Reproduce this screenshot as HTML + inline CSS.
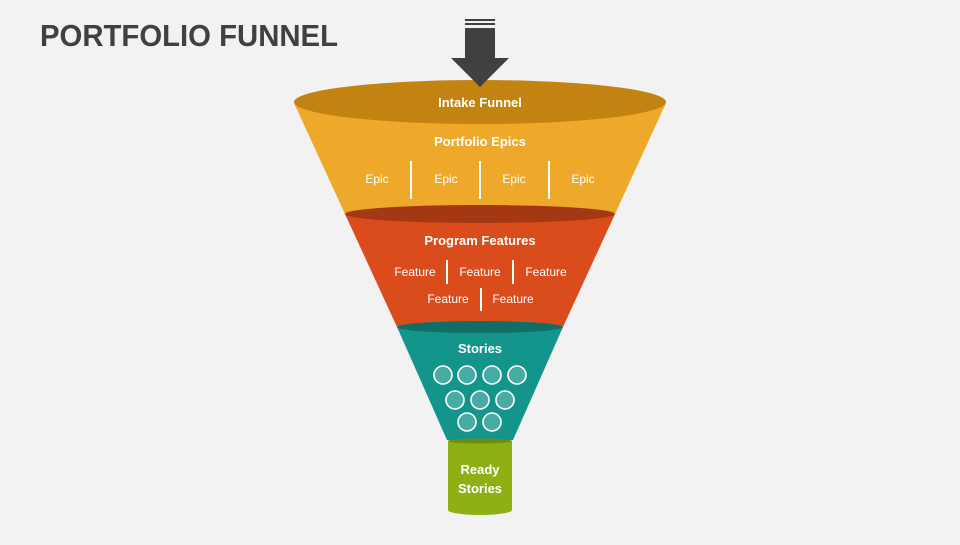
<!DOCTYPE html>
<html><head><style>
body{margin:0;width:960px;height:540px;background:#f2f2f2;overflow:hidden}
svg text{font-family:"Liberation Sans",sans-serif;font-weight:bold;fill:#fff;text-anchor:middle}
</style></head><body>
<svg width="960" height="540" viewBox="0 0 960 540">
<text x="40" y="46" textLength="298" lengthAdjust="spacingAndGlyphs" style="fill:#404040;font-size:31px;text-anchor:start">PORTFOLIO FUNNEL</text>
<!-- yellow -->
<polygon points="294,103 666,103 615,214 345,214" fill="#eea92a"/>
<ellipse cx="480" cy="102" rx="186" ry="22" fill="#c38310"/>
<!-- arrow -->
<rect x="465" y="19" width="30" height="2" fill="#404040"/>
<rect x="465" y="23" width="30" height="2" fill="#404040"/>
<rect x="465" y="28" width="30" height="31" fill="#404040"/>
<polygon points="451,58 509,58 480,87" fill="#404040"/>
<!-- orange -->
<polygon points="345,214 615,214 563,327 397,327" fill="#db4c1c"/>
<ellipse cx="480" cy="214" rx="135" ry="9" fill="#a43812"/>
<!-- teal -->
<polygon points="397,327 563,327 513,440 447,440" fill="#13958b"/>
<ellipse cx="480" cy="327" rx="83" ry="6" fill="#0f6e66"/>
<!-- green -->
<rect x="448" y="441" width="64" height="69" fill="#8db015"/>
<ellipse cx="480" cy="510" rx="32" ry="5" fill="#8db015"/>
<ellipse cx="480" cy="441" rx="32" ry="2.5" fill="#6f8c0e"/>
<text x="480" y="107" font-size="13">Intake Funnel</text>
<text x="480" y="146" font-size="13">Portfolio Epics</text>
<text x="377" y="183" font-size="12" style="font-weight:normal">Epic</text>
<text x="446" y="183" font-size="12" style="font-weight:normal">Epic</text>
<text x="514" y="183" font-size="12" style="font-weight:normal">Epic</text>
<text x="583" y="183" font-size="12" style="font-weight:normal">Epic</text>
<g stroke="#fff" stroke-width="2">
<line x1="411" y1="161" x2="411" y2="199"/><line x1="480" y1="161" x2="480" y2="199"/><line x1="549" y1="161" x2="549" y2="199"/>
<line x1="447" y1="260" x2="447" y2="284"/><line x1="513" y1="260" x2="513" y2="284"/><line x1="481" y1="288" x2="481" y2="311"/>
</g>
<text x="480" y="245" font-size="13">Program Features</text>
<text x="415" y="276" font-size="12" style="font-weight:normal">Feature</text>
<text x="480" y="276" font-size="12" style="font-weight:normal">Feature</text>
<text x="546" y="276" font-size="12" style="font-weight:normal">Feature</text>
<text x="448" y="303" font-size="12" style="font-weight:normal">Feature</text>
<text x="513" y="303" font-size="12" style="font-weight:normal">Feature</text>
<text x="480" y="353" font-size="13">Stories</text>
<g fill="#47aca4" stroke="#fff" stroke-width="1.6">
<circle cx="443" cy="375" r="9"/><circle cx="467" cy="375" r="9"/><circle cx="492" cy="375" r="9"/><circle cx="517" cy="375" r="9"/>
<circle cx="455" cy="400" r="9"/><circle cx="480" cy="400" r="9"/><circle cx="505" cy="400" r="9"/>
<circle cx="467" cy="422" r="9"/><circle cx="492" cy="422" r="9"/>
</g>
<text x="480" y="474" font-size="13">Ready</text>
<text x="480" y="493" font-size="13">Stories</text>
</svg>
</body></html>
